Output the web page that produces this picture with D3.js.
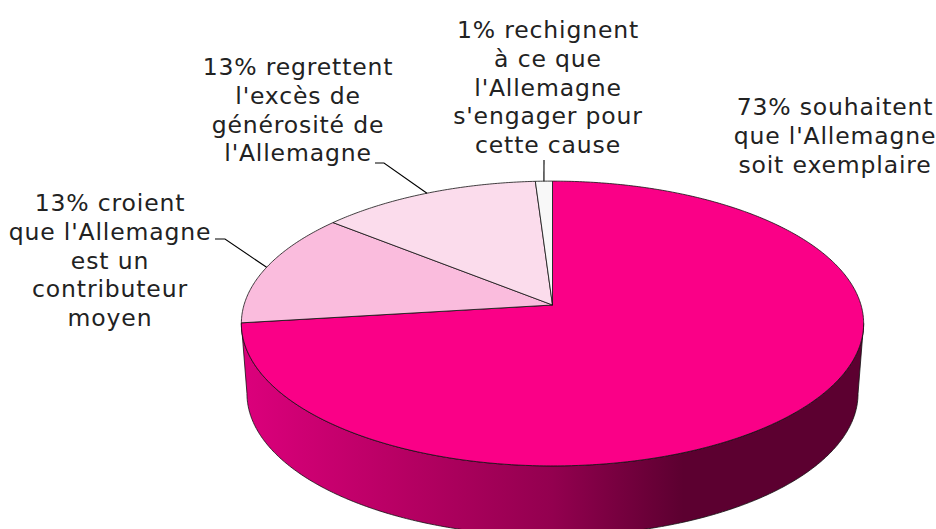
<!DOCTYPE html>
<html><head><meta charset="utf-8">
<script src="https://cdn.jsdelivr.net/npm/d3@7"></script>
<style>html,body{margin:0;padding:0;background:#fff}svg{display:block}text{font-family:"DejaVu Sans",Verdana,sans-serif;font-size:23.5px;letter-spacing:.85px;fill:#222;text-anchor:middle}</style>
</head><body><script>
const shares=[73,13,13,1];
const sliceColors=["#fa0087","#fabcdd","#fbdcec","#f8f8f8"];
const labelLines=[
 ["73% souhaitent","que l'Allemagne","soit exemplaire"],
 ["13% croient","que l'Allemagne","est un","contributeur","moyen"],
 ["13% regrettent","l'excès de","générosité de","l'Allemagne"],
 ["1% rechignent","à ce que","l'Allemagne","s'engager pour","cette cause"]];
const labelCenterX=[835,110,298,548];
const labelFirstY=[115,211,75,38];
const leaderElbows=[null,[[215,239],[225,239]],[[375,163],[384,163]],[[544,160]]];
const W=936,H=529,cx=552.5,cy=305,ra=308.5,rb=140,k=0.13,depth=70,shrink=0.982;
const svg=d3.select("body").append("svg").attr("width",W).attr("height",H);
const grad=svg.append("defs").append("linearGradient").attr("id","side").attr("gradientUnits","userSpaceOnUse")
 .attr("x1",241).attr("x2",864).attr("y1",0).attr("y2",0);
[[0,"#dc007c"],[0.25,"#b80064"],[0.5,"#93004f"],[0.71,"#5c0030"],[1,"#5c0030"]].forEach(s=>grad.append("stop").attr("offset",s[0]).attr("stop-color",s[1]));
const project=a=>{const u=Math.sin(a),v=-Math.cos(a),w=1-k*v;return [cx+ra*u/w,cy+rb*v/w]};
const lower=p=>[cx+(p[0]-cx)*shrink,p[1]+depth];
const line=d3.line();
const pie=d3.pie().sort(null).value(d=>d);
const arcs=pie(shares);
const a0=Math.PI/2+0.13,a1=3*Math.PI/2-0.13;
const rim=d3.range(a0,a1,0.01).concat([a1]).map(project);
svg.append("path").attr("d",line(rim.concat(rim.map(lower).reverse()))+"Z")
 .attr("fill","url(#side)").attr("stroke","#111").attr("stroke-width",0.8);
arcs.forEach((d,i)=>{
 const n=Math.max(4,Math.ceil((d.endAngle-d.startAngle)/0.01));
 const pts=d3.range(n+1).map(j=>project(d.startAngle+(d.endAngle-d.startAngle)*j/n));
 svg.append("path").attr("d",line([[cx,cy],...pts])+"Z").attr("fill",sliceColors[i])
  .attr("stroke","#111").attr("stroke-width",0.8).attr("stroke-linejoin","round");
});
arcs.forEach((d,i)=>{
 if(!leaderElbows[i])return;
 const end=project((d.startAngle+d.endAngle)/2);
 svg.append("path").attr("d",line([...leaderElbows[i],end])).attr("fill","none").attr("stroke","#000").attr("stroke-width",1.1);
});
labelLines.forEach((lines,i)=>{
 const t=svg.append("text").attr("x",labelCenterX[i]).attr("y",labelFirstY[i]);
 lines.forEach((s,j)=>t.append("tspan").attr("x",labelCenterX[i]).attr("dy",j?28.8:0).text(s));
});
</script></body></html>
